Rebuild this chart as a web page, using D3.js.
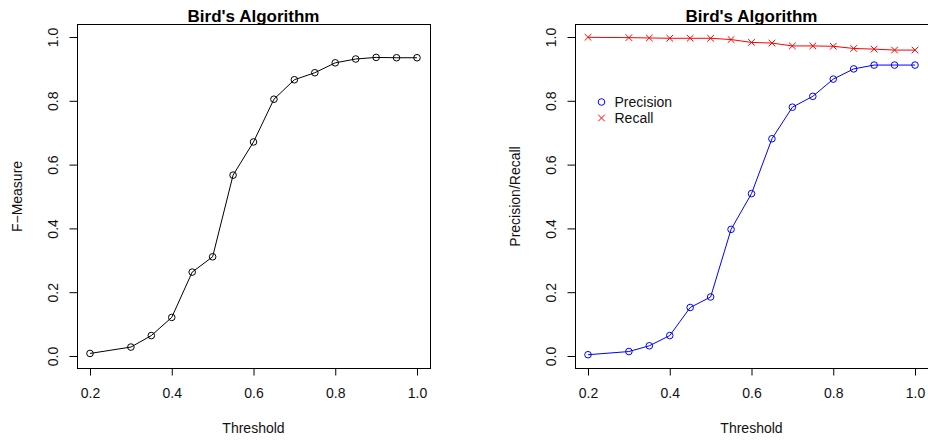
<!DOCTYPE html>
<html>
<head>
<meta charset="utf-8">
<script src="https://cdn.jsdelivr.net/npm/d3@7"></script>
<style>
  html, body { margin: 0; padding: 0; background: #fff; }
  svg { display: block; font-family: "Liberation Sans", Arial, sans-serif; }
</style>
</head>
<body>
<svg id="chart" width="928" height="440"></svg>
<script>
// Threshold sweep results for Bird's algorithm
const thresholds = [0.2, 0.3, 0.35, 0.4, 0.45, 0.5, 0.55, 0.6, 0.65, 0.7, 0.75, 0.8, 0.85, 0.9, 0.95, 1.0];
const fMeasure  = [0.008, 0.028, 0.064, 0.121, 0.263, 0.311, 0.567, 0.671, 0.805, 0.866, 0.888, 0.919, 0.931, 0.936, 0.935, 0.935];
const precision = [0.004, 0.014, 0.032, 0.064, 0.152, 0.185, 0.397, 0.509, 0.681, 0.780, 0.814, 0.868, 0.900, 0.912, 0.912, 0.912];
const recall    = [0.999, 0.998, 0.997, 0.996, 0.996, 0.996, 0.992, 0.983, 0.981, 0.972, 0.972, 0.971, 0.964, 0.962, 0.959, 0.959];

const xTicks = [0.2, 0.4, 0.6, 0.8, 1.0];
const yTicks = [0.0, 0.2, 0.4, 0.6, 0.8, 1.0];
const titleText = "Bird's Algorithm";
const xLabel = "Threshold";
const legendLabels = ["Precision", "Recall"];

const svg = d3.select("#chart");
const fmt = d3.format(".1f");

// Builds one framed panel with R-style axes; returns scales and group
function panel(left, right, yTitle) {
  const top = 24, bottom = 368;
  const g = svg.append("g");
  // data range 0.2..1.0 maps inset 4% from the box
  const x = d3.scaleLinear().domain([0.2, 1.0]).range([left + 13, left + 340]);
  const y = d3.scaleLinear().domain([0, 1]).range([356, 37]);

  g.append("rect")
    .attr("x", left + 0.5).attr("y", top + 0.5)
    .attr("width", right - left).attr("height", bottom - top)
    .attr("fill", "none").attr("stroke", "#000").attr("stroke-width", 1);

  const xAxis = g.append("g")
    .attr("transform", `translate(0,${bottom + 0.5})`)
    .call(d3.axisBottom(x).tickValues(xTicks).tickFormat(fmt).tickSize(7).tickSizeOuter(0).tickPadding(13));
  xAxis.select(".domain").attr("d", `M${x(0.2)},0H${x(1.0)}`);
  xAxis.selectAll("text").attr("font-size", 14).attr("fill", "#111")
    .attr("font-family", "'Liberation Sans', Arial, sans-serif");

  const yAxis = g.append("g")
    .attr("transform", `translate(${left + 0.5},0)`)
    .call(d3.axisLeft(y).tickValues(yTicks).tickFormat(fmt).tickSize(8).tickSizeOuter(0));
  yAxis.select(".domain").attr("d", `M0,${y(0)}V${y(1)}`);
  yAxis.selectAll(".tick text")
    .attr("x", null).attr("dy", null)
    .attr("text-anchor", "middle")
    .attr("transform", "translate(-25,0) rotate(-90)")
    .attr("dominant-baseline", "central")
    .attr("font-size", 14).attr("fill", "#111")
    .attr("font-family", "'Liberation Sans', Arial, sans-serif");

  g.append("text")
    .attr("x", (left + right) / 2).attr("y", 22)
    .attr("text-anchor", "middle")
    .attr("font-size", 17).attr("font-weight", "bold")
    .text(titleText);

  g.append("text")
    .attr("x", (left + 340 + left + 13) / 2).attr("y", 433)
    .attr("text-anchor", "middle")
    .attr("font-size", 14).attr("fill", "#111")
    .text(xLabel);

  g.append("text")
    .attr("transform", `translate(${left - 60},${(y(0) + y(1)) / 2}) rotate(-90)`)
    .attr("text-anchor", "middle")
    .attr("dominant-baseline", "central")
    .attr("font-size", 14).attr("fill", "#111")
    .text(yTitle);

  return { g, x, y };
}

function drawLine(p, values, color) {
  const line = d3.line().x((d, i) => p.x(thresholds[i])).y(d => p.y(d));
  p.g.append("path").datum(values)
    .attr("d", line).attr("fill", "none")
    .attr("stroke", color).attr("stroke-width", 1);
}

function drawCircles(p, values, color) {
  p.g.append("g").selectAll("circle").data(values).join("circle")
    .attr("cx", (d, i) => p.x(thresholds[i]))
    .attr("cy", d => p.y(d))
    .attr("r", 3.3)
    .attr("fill", "none").attr("stroke", color).attr("stroke-width", 1);
}

function crossPath(cx, cy, s) {
  return `M${cx - s},${cy - s}L${cx + s},${cy + s}M${cx - s},${cy + s}L${cx + s},${cy - s}`;
}

function drawCrosses(p, values, color) {
  p.g.append("g").selectAll("path").data(values).join("path")
    .attr("d", (d, i) => crossPath(p.x(thresholds[i]), p.y(d), 3.3))
    .attr("fill", "none").attr("stroke", color).attr("stroke-width", 1);
}

// Left: F-measure
const pf = panel(77, 430, "F\u2212Measure");
drawLine(pf, fMeasure, "#000");
drawCircles(pf, fMeasure, "#000");

// Right: precision and recall
const pr = panel(575, 928, "Precision/Recall");
drawLine(pr, recall, "#ff0000");
drawCrosses(pr, recall, "#ff0000");
drawLine(pr, precision, "#0000ff");
drawCircles(pr, precision, "#0000ff");

// Legend
const legend = pr.g.append("g");
legend.append("circle").attr("cx", 601.5).attr("cy", 102).attr("r", 3.3)
  .attr("fill", "none").attr("stroke", "#0000ff");
legend.append("path").attr("d", crossPath(601.5, 118, 3.3))
  .attr("fill", "none").attr("stroke", "#ff0000");
legend.selectAll("text").data(legendLabels).join("text")
  .attr("x", 614.5).attr("y", (d, i) => 102 + i * 16)
  .attr("dominant-baseline", "central")
  .attr("font-size", 14).attr("fill", "#111")
  .text(d => d);
</script>
</body>
</html>
